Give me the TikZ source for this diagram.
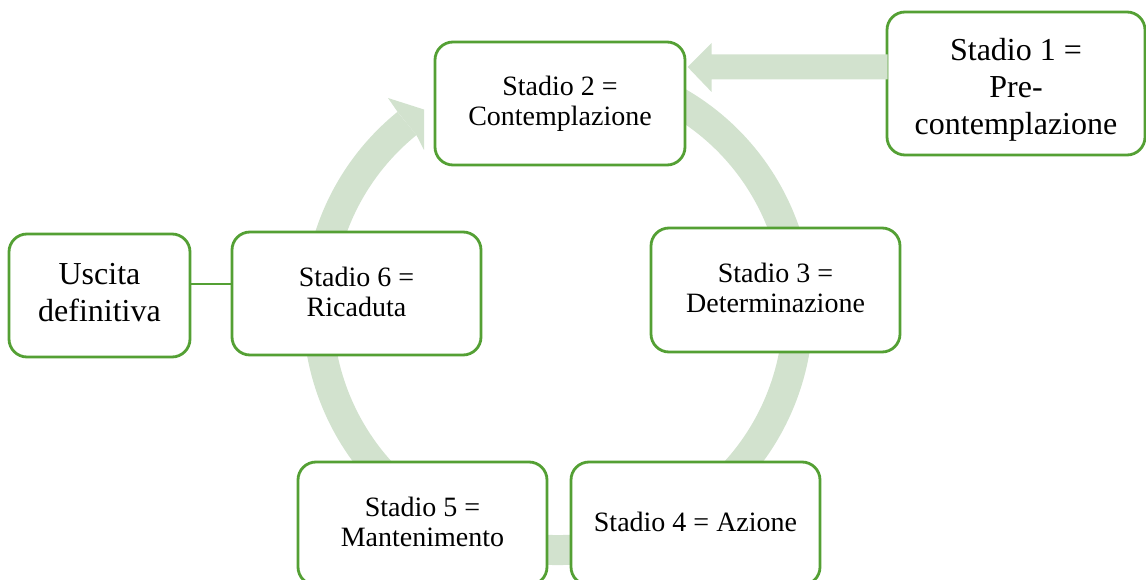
\documentclass[tikz,border=0pt]{standalone}
\usepackage{fontspec}
\setmainfont{Liberation Serif}
\usetikzlibrary{calc}
\definecolor{boxgreen}{RGB}{84,160,52}
\definecolor{ringgreen}{RGB}{210,226,206}
\begin{document}
\begin{tikzpicture}[x=1pt,y=1pt,
  stagebox/.style={draw=boxgreen, line width=2.8pt, fill=white, rounded corners=18pt,
    align=center, inner sep=0pt, font=\fontsize{28}{30}\selectfont},
  ring/.style={draw=ringgreen, line width=30pt},
  ringfill/.style={fill=ringgreen, draw=none},
  link/.style={draw=boxgreen, line width=2.6pt}]
\useasboundingbox (0,0) rectangle (1146,-580);
\coordinate (c) at (558,-310);
% cycle ring with arrow head
\draw[ring] ([shift={(70:240)}]c) arc[start angle=70, end angle=-231, radius=240];
\fill[ringfill] (388,-98) -- (424,-109.5) -- (424,-150) -- (416.4,-135.1) -- (397.5,-111.8) -- cycle;
% nodes
\node[stagebox, minimum width=258pt, minimum height=143pt,
  label={[font=\fontsize{32}{37}\selectfont, align=center, yshift=-6pt]center:Stadio 1 =\\Pre-\\contemplazione}] (s1) at (1016,-83.5) {};
\coordinate (tip) at ($(s1.west)+(-198,16.5)$);
% block arrow from Stadio 1 to Stadio 2
\fill[ringfill] ($(tip)+(200,12.5)$) -- ($(tip)+(24,12.5)$) -- ($(tip)+(24,24)$) -- (tip)
  -- ($(tip)+(24,-25)$) -- ($(tip)+(24,-12.5)$) -- ($(tip)+(200,-12.5)$) -- cycle;
\node[stagebox, minimum width=250pt, minimum height=123pt] (s2) at (560,-103.5) {Stadio 2 =\\Contemplazione};
\node[stagebox, minimum width=249pt, minimum height=124pt,
  label={[font=\fontsize{28}{30}\selectfont, align=center, yshift=2pt]center:Stadio 3 =\\Determinazione}] (s3) at (775.5,-290) {};
\node[stagebox, minimum width=249pt, minimum height=123pt,
  label={[font=\fontsize{28}{30}\selectfont, align=center, yshift=2pt]center:Stadio 4 = Azione}] (s4) at (695.5,-523.5) {};
\node[stagebox, minimum width=249pt, minimum height=123pt,
  label={[font=\fontsize{28}{30}\selectfont, align=center, yshift=2pt]center:Stadio 5 =\\Mantenimento}] (s5) at (422.5,-523.5) {};
\node[stagebox, minimum width=249pt, minimum height=123pt,
  label={[font=\fontsize{28}{30}\selectfont, align=center, yshift=2pt]center:Stadio 6 =\\Ricaduta}] (s6) at (356.5,-293.5) {};
\node[stagebox, minimum width=181pt, minimum height=123pt,
  label={[font=\fontsize{32}{37}\selectfont, align=center, yshift=3pt]center:Uscita\\definitiva}] (us) at (99.5,-295.5) {};
% link Uscita - Stadio 6
\draw[link] ($(us.east)+(0,11.5)$) coordinate (ua) -- (s6.west |- ua);
\coordinate (tick) at ($(us.east)+(-2,-24)$);
\draw[boxgreen, line width=1.2pt] (tick) -- ++(0,-4);
\end{tikzpicture}
\end{document}
